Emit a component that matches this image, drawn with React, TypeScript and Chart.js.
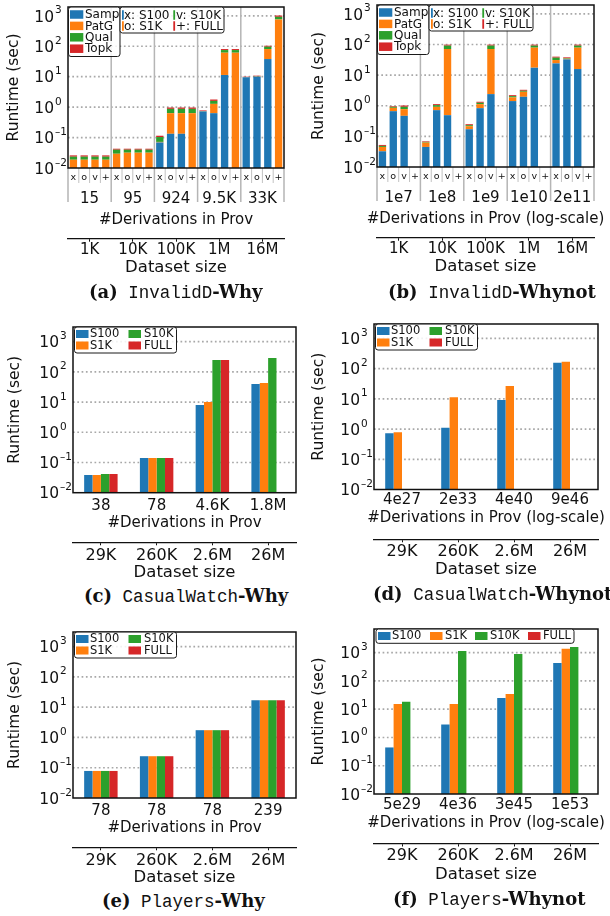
import React, { useEffect, useRef } from 'react';
import { Chart, registerables } from 'chart.js';

Chart.register(...registerables);

const FONT = "'DejaVu Sans', 'Noto Sans', sans-serif";
Chart.defaults.font.family = FONT;
Chart.defaults.color = '#111';

const BLUE = '#1f77b4';
const ORANGE = '#ff7f0e';
const GREEN = '#2ca02c';
const RED = '#d62728';

// ---------------- shared names ----------------
const stackSeries = ['Samp', 'PatG', 'Qual', 'Topk'];
const sampleSeries = ['S100', 'S1K', 'S10K', 'FULL'];
const sampleMarks = ['x', 'o', 'v', '+'];
const yDecades = [0.01, 0.1, 1, 10, 100, 1000];

// ---------------- (a) InvalidD-Why ----------------
const aDerivations = ['15', '95', '924', '9.5K', '33K'];
const aDatasetSize = ['1K', '10K', '100K', '1M', '16M'];
const aSamp = [0.004, 0.004, 0.004, 0.004, 0.004, 0.004, 0.004, 0.004, 0.069, 0.133, 0.133, 0.004, 0.72, 0.633, 11.4, 0.004, 9.55, 10, 38, 0.004];
const aPatG = [0.0147, 0.0147, 0.0147, 0.0147, 0.0254, 0.0278, 0.0278, 0.0278, 0.003, 0.5, 0.5, 0.629, 0.005, 0.647, 50, 61.4, 0.05, 0.1, 43, 759];
const aQual = [0.0048, 0.0048, 0.0048, 0.0048, 0.0104, 0.008, 0.008, 0.008, 0.032, 0.244, 0.244, 0.244, 0.015, 0.32, 13.6, 13.6, 0.1, 0.2, 15.6, 168];
const aTopk = [0.0025, 0.0025, 0.0025, 0.0025, 0.0032, 0.0032, 0.0032, 0.0032, 0.011, 0.093, 0.093, 0.093, 0.04, 0.18, 6, 6, 0.3, 0.5, 7.4, 97];

// ---------------- (b) InvalidD-Whynot ----------------
const bDerivations = ['1e7', '1e8', '1e9', '1e10', '2e11'];
const bDatasetSize = ['1K', '10K', '100K', '1M', '16M'];
const bSamp = [0.0326, 0.665, 0.468, null, 0.0452, 0.718, 0.492, null, 0.171, 0.834, 2.4, null, 1.42, 1.96, 17.5, null, 24.2, 32.7, 15.8, null];
const bPatG = [0.0126, 0.19, 0.306, null, 0.0175, 0.204, 70.9, null, 0.044, 0.296, 69, null, 0.45, 0.9, 61.4, null, 6.9, 1.5, 63.1, null];
const bQual = [0.0036, 0.067, 0.148, null, 0.0032, 0.125, 20.4, null, 0.017, 0.12, 20.4, null, 0.19, 0.22, 12.9, null, 6, 1.5, 12.9, null];
const bTopk = [0.0037, 0.048, 0.098, null, 0.0031, 0.083, 7.2, null, 0.018, 0.1, 7.2, null, 0.16, 0.24, 7.2, null, 3, 2.4, 7.2, null];

// ---------------- (c) CasualWatch-Why ----------------
const cDerivations = ['38', '78', '4.6K', '1.8M'];
const cDatasetSize = ['29K', '260K', '2.6M', '26M'];
const cS100 = [0.0385, 0.141, 8.0, 39.6];
const cS1K = [0.0385, 0.141, 10.0, 42.8];
const cS10K = [0.0415, 0.141, 247, 288];
const cFULL = [0.0415, 0.141, 247, null];

// ---------------- (d) CasualWatch-Whynot ----------------
const dDerivations = ['4e27', '2e33', '4e40', '9e46'];
const dDatasetSize = ['29K', '260K', '2.6M', '26M'];
const dS100 = [0.733, 1.1, 9.08, 156];
const dS1K = [0.79, 11.4, 26.4, 169];
const dS10K = [null, null, null, null];
const dFULL = [null, null, null, null];

// ---------------- (e) Players-Why ----------------
const eDerivations = ['78', '78', '78', '239'];
const eDatasetSize = ['29K', '260K', '2.6M', '26M'];
const eS100 = [0.0783, 0.24, 1.74, 17.1];
const eS1K = [0.0783, 0.24, 1.74, 17.1];
const eS10K = [0.0783, 0.24, 1.74, 17.1];
const eFULL = [0.0783, 0.24, 1.74, 17.1];

// ---------------- (f) Players-Whynot ----------------
const fDerivations = ['5e29', '4e36', '3e45', '1e53'];
const fDatasetSize = ['29K', '260K', '2.6M', '26M'];
const fS100 = [0.444, 2.88, 25.1, 431];
const fS1K = [15.4, 15.4, 34.8, 1384];
const fS10K = [18.2, 1145, 897, 1585];
const fFULL = [null, null, null, null];

const derivTitle = '#Derivations in Prov';
const derivTitleLog = '#Derivations in Prov (log-scale)';
const sizeTitle = 'Dataset size';
const yTitle = 'Runtime (sec)';

// ---------------- layout specs ----------------
type Plot = { l: number; r: number; t: number; b: number };
type Spec = {
  id: string; kind: 'stacked' | 'grouped'; legend: 'stack' | 'two' | 'row';
  cx: number; cy: number; cw: number; ch: number; plot: Plot; yMax: number;
  secLine: number; xPad: number; grpPad?: number; secPad: number; secFont: number;
  derivY: number; sizeY: number; yTitlePad: number;
  marks?: string[]; groups: string[]; sizes: string[]; deriv: string;
  series: (number | null)[][];
};

const marks20 = aDerivations.flatMap(() => sampleMarks);

const PANELS: Spec[] = [
  { id: 'a', kind: 'stacked', legend: 'stack', cx: 0, cy: 0, cw: 300, ch: 282, plot: { l: 68, r: 284, t: 7, b: 168 }, yMax: 1950,
    secLine: 238.7, xPad: 5, grpPad: 6.5, secPad: 0.8, secFont: 15, derivY: 220, sizeY: 268, yTitlePad: 6,
    marks: marks20, groups: aDerivations, sizes: aDatasetSize, deriv: derivTitle, series: [aSamp, aPatG, aQual, aTopk] },
  { id: 'b', kind: 'stacked', legend: 'stack', cx: 305, cy: 0, cw: 305, ch: 282, plot: { l: 377, r: 594, t: 5, b: 167 }, yMax: 1950,
    secLine: 237.7, xPad: 5, grpPad: 6.5, secPad: 0.8, secFont: 15, derivY: 219, sizeY: 267, yTitlePad: 6,
    marks: marks20, groups: bDerivations, sizes: bDatasetSize, deriv: derivTitleLog, series: [bSamp, bPatG, bQual, bTopk] },
  { id: 'c', kind: 'grouped', legend: 'two', cx: 0, cy: 310, cw: 300, ch: 274, plot: { l: 73, r: 296, t: 327, b: 492.7 }, yMax: 3050,
    secLine: 542.3, xPad: 5.8, secPad: 2.2, secFont: 16, derivY: 523, sizeY: 573, yTitlePad: 7.5,
    groups: cDerivations, sizes: cDatasetSize, deriv: derivTitle, series: [cS100, cS1K, cS10K, cFULL] },
  { id: 'd', kind: 'grouped', legend: 'two', cx: 305, cy: 310, cw: 305, ch: 274, plot: { l: 374, r: 598, t: 324, b: 489.5 }, yMax: 3000,
    secLine: 539.3, xPad: 3.5, secPad: 1.2, secFont: 16, derivY: 518.5, sizeY: 570, yTitlePad: 6,
    groups: dDerivations, sizes: dDatasetSize, deriv: derivTitleLog, series: [dS100, dS1K, dS10K, dFULL] },
  { id: 'e', kind: 'grouped', legend: 'two', cx: 0, cy: 615, cw: 300, ch: 274, plot: { l: 73, r: 296, t: 632, b: 798 }, yMax: 3050,
    secLine: 847.3, xPad: 5.5, secPad: 2.2, secFont: 16, derivY: 828, sizeY: 878, yTitlePad: 7.5,
    groups: eDerivations, sizes: eDatasetSize, deriv: derivTitle, series: [eS100, eS1K, eS10K, eFULL] },
  { id: 'f', kind: 'grouped', legend: 'row', cx: 305, cy: 615, cw: 305, ch: 274, plot: { l: 374, r: 598, t: 629, b: 794 }, yMax: 6900,
    secLine: 843.5, xPad: 4, secPad: 1.5, secFont: 16, derivY: 823, sizeY: 875, yTitlePad: 6,
    groups: fDerivations, sizes: fDatasetSize, deriv: derivTitleLog, series: [fS100, fS1K, fS10K, fFULL] },
];

const CAPTIONS = [
  { x: 89, cy: 292, tag: '(a)', mono: 'InvalidD', tail: '-Why' },
  { x: 388, cy: 292, tag: '(b)', mono: 'InvalidD', tail: '-Whynot' },
  { x: 84, cy: 596, tag: '(c)', mono: 'CasualWatch', tail: '-Why' },
  { x: 373, cy: 594, tag: '(d)', mono: 'CasualWatch', tail: '-Whynot' },
  { x: 102, cy: 901, tag: '(e)', mono: 'Players', tail: '-Why' },
  { x: 393, cy: 899, tag: '(f)', mono: 'Players', tail: '-Whynot' },
];

// ---------------- legends ----------------
type LItem = { color: string; label: string; hx: number; hw: number; hh: number; cy: number; tx: number };
type LBox = { x: number; y: number; w: number; h: number; font: number; items: LItem[] };

function legendsFor(kind: string): LBox[] {
  const colors = [BLUE, ORANGE, GREEN, RED];
  if (kind === 'stack') {
    const box1: LBox = { x: 0.5, y: 0, w: 51.5, h: 49.5, font: 12, items: stackSeries.map((s, i) => ({ color: colors[i], label: s, hx: 1.5, hw: 13.3, hh: 8.5, cy: 7.5 + 11.4 * i, tx: 16.5 })) };
    const pos = [[0, 0], [0, 1], [1, 0], [1, 1]];
    const box2: LBox = { x: 52, y: 0, w: 104, h: 26, font: 12, items: sampleSeries.map((s, i) => ({ color: colors[i], label: `${sampleMarks[i]}: ${s}`, hx: 2 + pos[i][0] * 51.3, hw: 1.8, hh: 9.5, cy: 8 + pos[i][1] * 11, tx: 4 + pos[i][0] * 52 })) };
    return [box1, box2];
  }
  if (kind === 'two') {
    const pos = [[0, 0], [0, 1], [1, 0], [1, 1]];
    return [{ x: 1.5, y: 0, w: 102, h: 26, font: 11.5, items: sampleSeries.map((s, i) => ({ color: colors[i], label: s, hx: 1.5 + pos[i][0] * 52.5, hw: 12.5, hh: 8, cy: 7 + pos[i][1] * 11.5, tx: 15.5 + pos[i][0] * 54 })) }];
  }
  const hx = [2, 54, 99, 152];
  const tx = [16, 69, 114, 167];
  return [{ x: 2, y: 0, w: 198, h: 14.3, font: 11.5, items: sampleSeries.map((s, i) => ({ color: colors[i], label: s, hx: hx[i], hw: 12.5, hh: 8, cy: 7, tx: tx[i] })) }];
}

function roundRectPath(ctx: CanvasRenderingContext2D, x: number, y: number, w: number, h: number, r: number) {
  ctx.beginPath();
  ctx.moveTo(x + r, y);
  ctx.lineTo(x + w - r, y);
  ctx.quadraticCurveTo(x + w, y, x + w, y + r);
  ctx.lineTo(x + w, y + h - r);
  ctx.quadraticCurveTo(x + w, y + h, x + w - r, y + h);
  ctx.lineTo(x + r, y + h);
  ctx.quadraticCurveTo(x, y + h, x, y + h - r);
  ctx.lineTo(x, y + r);
  ctx.quadraticCurveTo(x, y, x + r, y);
  ctx.closePath();
}

function makePlugin(p: Spec) {
  const stacked = p.kind === 'stacked';
  return {
    id: 'fig' + p.id,
    beforeDatasetsDraw(chart: any) {
      const { ctx, chartArea: a } = chart;
      const ys = chart.scales.y;
      ctx.save();
      ctx.strokeStyle = '#a8a8a8';
      ctx.lineWidth = 1.7;
      ctx.setLineDash([1.7, 2.6]);
      for (const v of yDecades) {
        if (v <= 0.01) continue;
        const py = ys.getPixelForValue(v);
        ctx.beginPath();
        ctx.moveTo(a.left, py);
        ctx.lineTo(a.right, py);
        ctx.stroke();
      }
      ctx.setLineDash([]);
      if (stacked) {
        const xs = chart.scales.x;
        const n = p.marks!.length;
        for (let i = 0; i <= n; i++) {
          const px = xs.getPixelForValue(i - 0.5);
          ctx.beginPath();
          if (i % 4 === 0) {
            ctx.strokeStyle = '#b5b5b5';
            ctx.lineWidth = 1.5;
            const top = i > 0 && i < n ? a.top : a.bottom;
            ctx.moveTo(px, top);
            ctx.lineTo(px, a.bottom + 34);
          } else {
            ctx.strokeStyle = '#c2c2c2';
            ctx.lineWidth = 1;
            ctx.moveTo(px, a.bottom);
            ctx.lineTo(px, a.bottom + 15);
          }
          ctx.stroke();
        }
      }
      ctx.restore();
    },
    afterDraw(chart: any) {
      const { ctx, chartArea: a } = chart;
      const ys = chart.scales.y;
      ctx.save();
      // frame
      ctx.strokeStyle = '#111';
      ctx.lineWidth = 1.5;
      ctx.strokeRect(a.left, a.top, a.right - a.left, a.bottom - a.top);
      // y tick labels 10^n
      ctx.fillStyle = '#111';
      for (const v of yDecades) {
        const py = ys.getPixelForValue(v);
        const e = Math.round(Math.log10(v));
        const xr = a.left - 14;
        ctx.font = `15.5px ${FONT}`;
        ctx.textAlign = 'right';
        ctx.textBaseline = 'alphabetic';
        ctx.fillText('10', xr, py + 5.7);
        ctx.font = `10.5px ${FONT}`;
        ctx.textAlign = 'left';
        ctx.fillText(e < 0 ? '\u2013' + -e : String(e), xr + 1, py - 2.5);
      }
      // axis titles
      const cxm = (a.left + a.right) / 2;
      ctx.textAlign = 'center';
      ctx.textBaseline = 'middle';
      ctx.font = `15px ${FONT}`;
      ctx.fillText(p.deriv, cxm, p.derivY - p.cy);
      ctx.font = `16.5px ${FONT}`;
      ctx.fillText(sizeTitle, cxm, p.sizeY - p.cy);
      // legends
      for (const lg of legendsFor(p.legend)) {
        const X = a.left + lg.x;
        const Y = a.top + lg.y;
        roundRectPath(ctx, X, Y, lg.w, lg.h, 2.5);
        ctx.fillStyle = 'rgba(255,255,255,0.85)';
        ctx.fill();
        ctx.strokeStyle = '#1a1a1a';
        ctx.lineWidth = 1;
        ctx.stroke();
        ctx.font = `${lg.font}px ${FONT}`;
        ctx.textAlign = 'left';
        ctx.textBaseline = 'middle';
        for (const it of lg.items) {
          ctx.fillStyle = it.color;
          ctx.fillRect(X + it.hx, Y + it.cy - it.hh / 2, it.hw, it.hh);
          ctx.fillStyle = '#111';
          ctx.fillText(it.label, X + it.tx, Y + it.cy + 0.5);
        }
      }
      ctx.restore();
    },
  };
}

function buildChart(canvas: HTMLCanvasElement, p: Spec) {
  const stacked = p.kind === 'stacked';
  const topPad = p.plot.t - p.cy;
  const rightPad = p.cx + p.cw - p.plot.r;
  const yW = p.plot.l - p.cx;
  const firstH = stacked ? 17 : p.secLine - p.plot.b;
  const secH = p.cy + p.ch - p.secLine;
  const colors = [BLUE, ORANGE, GREEN, RED];
  const names = stacked ? stackSeries : sampleSeries;
  const datasets = p.series.map((d, i) => ({
    label: names[i],
    data: d,
    backgroundColor: colors[i],
    borderWidth: 0,
    barPercentage: stacked ? 0.68 : 1,
    categoryPercentage: stacked ? 1 : 0.6,
    xAxisID: 'x',
    yAxisID: 'y',
  }));
  const scales: any = {
    y: {
      type: 'logarithmic', position: 'left', min: 0.01, max: p.yMax, stacked,
      grid: { display: false, drawTicks: false }, border: { display: false }, ticks: { display: false },
      title: { display: true, text: yTitle, color: '#111', font: { family: FONT, size: 15.5, lineHeight: 1 }, padding: { top: p.yTitlePad, bottom: 0 } },
      afterFit: (s: any) => { s.width = yW; s.paddingTop = 0; s.paddingBottom = 0; },
    },
    x: {
      type: 'category', axis: 'x', position: 'bottom', offset: true, stacked, weight: 0,
      labels: stacked ? p.marks : p.groups,
      grid: { display: false, drawTicks: false }, border: { display: false },
      ticks: { autoSkip: false, maxRotation: 0, minRotation: 0, padding: p.xPad, color: '#111', font: { family: FONT, size: stacked ? 9.5 : 15, lineHeight: 1 } },
      afterFit: (s: any) => { s.height = firstH; s.paddingLeft = 0; s.paddingRight = 0; },
    },
    x3: {
      type: 'category', axis: 'x', position: 'bottom', offset: true, weight: 2, labels: p.sizes,
      grid: { display: true, drawOnChartArea: false, drawTicks: true, tickLength: 3, offset: false, color: '#111', tickColor: '#111', tickWidth: 1, lineWidth: 1 },
      border: { display: true, color: '#111', width: 1.2 },
      ticks: { autoSkip: false, maxRotation: 0, minRotation: 0, padding: p.secPad, color: '#111', font: { family: FONT, size: p.secFont, lineHeight: 1 } },
      afterFit: (s: any) => { s.height = secH; s.paddingLeft = 0; s.paddingRight = 0; },
    },
  };
  if (stacked) {
    scales.x2 = {
      type: 'category', axis: 'x', position: 'bottom', offset: true, weight: 1, labels: p.groups,
      grid: { display: false, drawTicks: false }, border: { display: false },
      ticks: { autoSkip: false, maxRotation: 0, minRotation: 0, padding: p.grpPad, color: '#111', font: { family: FONT, size: 15, lineHeight: 1 } },
      afterFit: (s: any) => { s.height = p.secLine - p.plot.b - 17; s.paddingLeft = 0; s.paddingRight = 0; },
    };
  }
  return new Chart(canvas, {
    type: 'bar',
    data: { labels: stacked ? p.marks : p.groups, datasets },
    options: {
      responsive: false,
      animation: false,
      devicePixelRatio: 1,
      events: [],
      layout: { padding: { left: 0, right: rightPad, top: topPad, bottom: 0 }, autoPadding: false } as any,
      plugins: { legend: { display: false }, tooltip: { enabled: false } },
      scales,
    },
    plugins: [makePlugin(p)],
  } as any);
}

function Panel({ p }: { p: Spec }) {
  const ref = useRef<HTMLCanvasElement>(null);
  useEffect(() => {
    const chart = buildChart(ref.current!, p);
    return () => chart.destroy();
  }, [p]);
  return (
    <canvas
      ref={ref}
      width={p.cw}
      height={p.ch}
      style={{ position: 'absolute', left: p.cx, top: p.cy, width: p.cw, height: p.ch }}
    />
  );
}

const boldSerif = { fontFamily: "'DejaVu Serif', serif", fontWeight: 'bold' as const, fontSize: 18 };
const monoFont = { fontFamily: "'Liberation Mono', monospace", fontSize: 17.5 };

export default function App() {
  return (
    <div style={{ position: 'absolute', left: 0, top: 0, width: 610, height: 916, overflow: 'hidden', background: '#fff' }}>
      {PANELS.map((p) => (
        <Panel key={p.id} p={p} />
      ))}
      {CAPTIONS.map((c) => (
        <div
          key={c.tag}
          style={{
            position: 'absolute', left: c.x, top: c.cy - 12, height: 24, lineHeight: '24px',
            whiteSpace: 'nowrap', color: '#111',
          }}
        >
          <span style={boldSerif}>{c.tag}</span>
          <span style={monoFont}>{' ' + c.mono}</span>
          <span style={boldSerif}>{c.tail}</span>
        </div>
      ))}
    </div>
  );
}
